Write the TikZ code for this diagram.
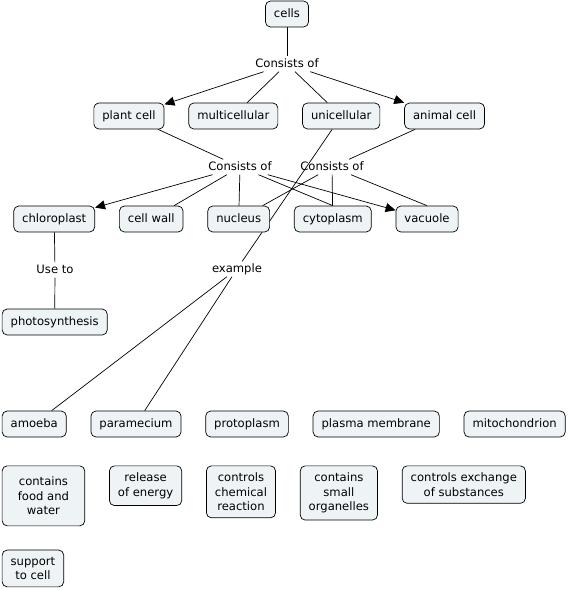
\documentclass[tikz,border=0pt]{standalone}
\usepackage{fontspec}
\setmainfont{DejaVu Sans}
\usetikzlibrary{arrows.meta, positioning, backgrounds}
\definecolor{cellfill}{RGB}{238,243,246}

\begin{document}
\begin{tikzpicture}[
    x = 1pt, y = -1pt,
    node distance = 24pt and 24pt,
    concept/.style = {rectangle, rounded corners=5pt, draw, line width=0.7pt, fill=cellfill, inner xsep=8.5pt, inner ysep=7pt},
    oneline/.style = {concept, text height=9pt, text depth=3pt},
    multiline/.style = {concept, align=center},
    phrase/.style = {inner sep=2pt, text height=8.5pt, text depth=2.5pt},
    tie/.style = {black, line width=0.7pt},
    tiearrow/.style = {tie, -{Triangle[length=10pt, width=9pt]}},
    font=\fontsize{11.6}{14.5}\selectfont
    ]
  \useasboundingbox (0,0) rectangle (568,590);

  \node[oneline] (cells) at (287,14) {cells} ;
  \node[phrase] (cons1) at (287,64) {Consists of} ;

  \node[oneline, anchor=west] (plant) at (93.5,116) {plant cell} ;
  \node[oneline] (multi) [right=of plant] {multicellular} ;
  \node[oneline] (uni) [right=of multi] {unicellular} ;
  \node[oneline] (animal) [right=of uni] {animal cell} ;

  \node[phrase] (cons2) at (240,167) {Consists of} ;
  \node[phrase] (cons3) at (332,167) {Consists of} ;

  \node[oneline, anchor=west] (chloro) at (13.4,219) {chloroplast} ;
  \node[oneline] (wall) [right=of chloro] {cell wall} ;
  \node[oneline] (nucleus) [right=of wall] {nucleus} ;
  \node[oneline] (cyto) [right=of nucleus] {cytoplasm} ;
  \node[oneline] (vacuole) [right=of cyto] {vacuole} ;

  \node[phrase] (useto) at (55,270) {Use to} ;
  \node[phrase] (example) at (237,269) {example} ;
  \node[oneline, anchor=west] (photo) at (1.8,322) {photosynthesis} ;

  % loose concepts, not linked
  \node[oneline, anchor=west] (amoeba) at (1.8,424) {amoeba} ;
  \node[oneline] (para) [right=of amoeba] {paramecium} ;
  \node[oneline] (proto) [right=of para] {protoplasm} ;
  \node[oneline] (plasma) [right=of proto] {plasma membrane} ;
  \node[oneline] (mito) [right=of plasma] {mitochondrion} ;

  \node[multiline, anchor=north west, minimum width=82.6pt, minimum height=60pt] (food) at (1.8,465.5) {contains\\food and\\water} ;
  \node[multiline] (energy) [right=of food.north east, anchor=north west] {release\\of energy} ;
  \node[multiline] (chem) [right=of energy.north east, anchor=north west] {controls\\chemical\\reaction} ;
  \node[multiline] (small) [right=of chem.north east, anchor=north west] {contains\\small\\organelles} ;
  \node[multiline] (exch) [right=of small.north east, anchor=north west] {controls exchange\\of substances} ;
  \node[multiline, anchor=north west] (support) at (1.8,549.7) {support\\to cell} ;

  \begin{scope}[on background layer]
  \draw[tie]
  (cells) edge (cons1)
  (cons1) edge[tiearrow] (plant)
  (cons1) edge (multi)
  (cons1) edge (uni)
  (cons1) edge[tiearrow] (animal)

  (plant) edge (cons2)
  (animal) edge (cons3)
  (uni) edge (example)

  (cons2) edge[tiearrow] (chloro)
  (cons2) edge (wall)
  (cons2) edge (nucleus)
  (cons2) edge (cyto.north)
  (cons2) edge[tiearrow] (vacuole)
  (cons3) edge (nucleus)
  (cons3) edge (cyto)
  (cons3) edge (vacuole.north)

  (chloro) edge (useto)
  (useto) edge (photo)
  (example) edge (amoeba)
  (example) edge (para);
  \end{scope}
\end{tikzpicture}
\end{document}
